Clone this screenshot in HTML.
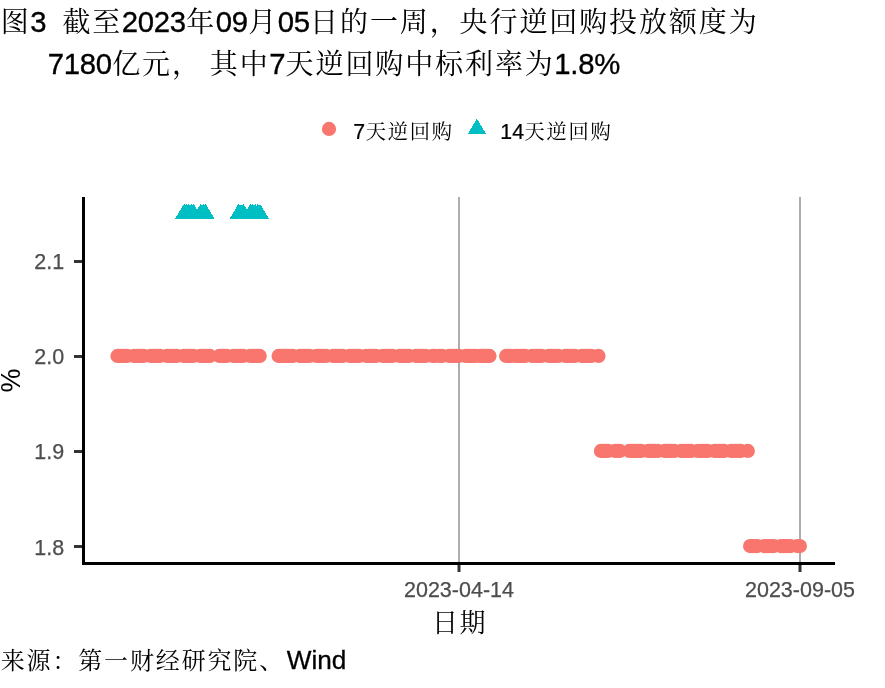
<!DOCTYPE html>
<html lang="zh"><head><meta charset="utf-8"><title>图3</title>
<style>
html,body{margin:0;padding:0;background:#fff;}
svg{display:block;}
text{font-family:"Liberation Sans","Noto Serif CJK SC",sans-serif;white-space:pre;font-weight:400;}
.l{stroke:#000;stroke-width:0.35px;}
.c{font-weight:400;}
.ax{font-size:21.5px;fill:#4d4d4d;stroke:#4d4d4d;stroke-width:0.25px;}
.at{font-size:26.9px;fill:#000;}
</style></head><body>
<svg width="885" height="688" viewBox="0 0 885 688">
<rect width="885" height="688" fill="#fff"/>
<text y="31.8" fill="#000"><tspan x="0.75" dy="0.00" class="c" style="font-size:28px;letter-spacing:1.90px">图</tspan><tspan x="30.30" dy="0.00" class="l" style="font-size:29.3px;letter-spacing:-0.28px;stroke-width:0.34px">3  </tspan><tspan x="62.39" dy="0.00" class="c" style="font-size:28px;letter-spacing:1.90px">截至</tspan><tspan x="121.84" dy="0.00" class="l" style="font-size:29.3px;letter-spacing:-0.28px;stroke-width:0.34px">2023</tspan><tspan x="186.25" dy="0.00" class="c" style="font-size:28px;letter-spacing:1.90px">年</tspan><tspan x="215.80" dy="0.00" class="l" style="font-size:29.3px;letter-spacing:-0.28px;stroke-width:0.34px">09</tspan><tspan x="248.18" dy="0.00" class="c" style="font-size:28px;letter-spacing:1.90px">月</tspan><tspan x="277.73" dy="0.00" class="l" style="font-size:29.3px;letter-spacing:-0.28px;stroke-width:0.34px">05</tspan><tspan x="310.11" dy="0.00" class="c" style="font-size:28px;letter-spacing:1.90px">日的一周，央行逆回购投放额度为</tspan></text>
<text y="74.0" fill="#000"><tspan x="47.80" dy="0.00" class="l" style="font-size:29.3px;letter-spacing:-0.28px;stroke-width:0.34px">7180</tspan><tspan x="112.21" dy="0.00" class="c" style="font-size:28px;letter-spacing:1.90px">亿元，</tspan><tspan x="201.56" dy="0.00" class="l" style="font-size:29.3px;letter-spacing:-0.28px;stroke-width:0.34px"> </tspan><tspan x="209.77" dy="0.00" class="c" style="font-size:28px;letter-spacing:1.90px">其中</tspan><tspan x="269.22" dy="0.00" class="l" style="font-size:29.3px;letter-spacing:-0.28px;stroke-width:0.34px">7</tspan><tspan x="285.59" dy="0.00" class="c" style="font-size:28px;letter-spacing:1.90px">天逆回购中标利率为</tspan><tspan x="554.34" dy="0.00" class="l" style="font-size:29.3px;letter-spacing:-0.28px;stroke-width:0.34px">1.8%</tspan></text>
<!-- legend -->
<circle cx="329" cy="128.9" r="7.1" fill="#F8766D"/>
<text y="138.8" fill="#000"><tspan x="353.30" dy="0.00" class="l" style="font-size:21.3px;letter-spacing:0.00px;stroke-width:0.24px">7</tspan><tspan x="365.70" dy="0.00" class="c" style="font-size:20.3px;letter-spacing:1.70px">天逆回购</tspan></text>
<path d="M476.9 118.5L486.1 134.1L467.7 134.1Z" fill="#00BFC4" shape-rendering="crispEdges"/>
<text y="138.8" fill="#000"><tspan x="500.30" dy="0.00" class="l" style="font-size:21.3px;letter-spacing:0.00px;stroke-width:0.24px">14</tspan><tspan x="524.54" dy="0.00" class="c" style="font-size:20.3px;letter-spacing:1.70px">天逆回购</tspan></text>
<!-- gridlines -->
<rect x="458" y="197" width="2" height="366" fill="#adadad"/>
<rect x="799" y="197" width="2" height="366" fill="#adadad"/>
<!-- points -->
<g fill="#F8766D">
<circle cx="117.5" cy="355.9" r="7.1"/><circle cx="119.9" cy="355.9" r="7.1"/><circle cx="122.2" cy="355.9" r="7.1"/><circle cx="124.6" cy="355.9" r="7.1"/><circle cx="127.0" cy="355.9" r="7.1"/><circle cx="134.1" cy="355.9" r="7.1"/><circle cx="136.4" cy="355.9" r="7.1"/><circle cx="138.8" cy="355.9" r="7.1"/><circle cx="141.2" cy="355.9" r="7.1"/><circle cx="143.5" cy="355.9" r="7.1"/><circle cx="150.7" cy="355.9" r="7.1"/><circle cx="153.0" cy="355.9" r="7.1"/><circle cx="155.4" cy="355.9" r="7.1"/><circle cx="157.8" cy="355.9" r="7.1"/><circle cx="160.1" cy="355.9" r="7.1"/><circle cx="167.2" cy="355.9" r="7.1"/><circle cx="169.6" cy="355.9" r="7.1"/><circle cx="172.0" cy="355.9" r="7.1"/><circle cx="174.4" cy="355.9" r="7.1"/><circle cx="176.7" cy="355.9" r="7.1"/><circle cx="183.8" cy="355.9" r="7.1"/><circle cx="186.2" cy="355.9" r="7.1"/><circle cx="188.6" cy="355.9" r="7.1"/><circle cx="190.9" cy="355.9" r="7.1"/><circle cx="193.3" cy="355.9" r="7.1"/><circle cx="200.4" cy="355.9" r="7.1"/><circle cx="202.8" cy="355.9" r="7.1"/><circle cx="205.2" cy="355.9" r="7.1"/><circle cx="207.5" cy="355.9" r="7.1"/><circle cx="209.9" cy="355.9" r="7.1"/><circle cx="219.4" cy="355.9" r="7.1"/><circle cx="221.7" cy="355.9" r="7.1"/><circle cx="224.1" cy="355.9" r="7.1"/><circle cx="226.5" cy="355.9" r="7.1"/><circle cx="233.6" cy="355.9" r="7.1"/><circle cx="236.0" cy="355.9" r="7.1"/><circle cx="238.3" cy="355.9" r="7.1"/><circle cx="240.7" cy="355.9" r="7.1"/><circle cx="243.1" cy="355.9" r="7.1"/><circle cx="250.2" cy="355.9" r="7.1"/><circle cx="252.5" cy="355.9" r="7.1"/><circle cx="254.9" cy="355.9" r="7.1"/><circle cx="257.3" cy="355.9" r="7.1"/><circle cx="259.7" cy="355.9" r="7.1"/><circle cx="278.6" cy="355.9" r="7.1"/><circle cx="281.0" cy="355.9" r="7.1"/><circle cx="283.3" cy="355.9" r="7.1"/><circle cx="285.7" cy="355.9" r="7.1"/><circle cx="288.1" cy="355.9" r="7.1"/><circle cx="290.5" cy="355.9" r="7.1"/><circle cx="292.8" cy="355.9" r="7.1"/><circle cx="299.9" cy="355.9" r="7.1"/><circle cx="302.3" cy="355.9" r="7.1"/><circle cx="304.7" cy="355.9" r="7.1"/><circle cx="307.0" cy="355.9" r="7.1"/><circle cx="309.4" cy="355.9" r="7.1"/><circle cx="316.5" cy="355.9" r="7.1"/><circle cx="318.9" cy="355.9" r="7.1"/><circle cx="321.3" cy="355.9" r="7.1"/><circle cx="323.6" cy="355.9" r="7.1"/><circle cx="326.0" cy="355.9" r="7.1"/><circle cx="333.1" cy="355.9" r="7.1"/><circle cx="335.5" cy="355.9" r="7.1"/><circle cx="337.8" cy="355.9" r="7.1"/><circle cx="340.2" cy="355.9" r="7.1"/><circle cx="342.6" cy="355.9" r="7.1"/><circle cx="349.7" cy="355.9" r="7.1"/><circle cx="352.1" cy="355.9" r="7.1"/><circle cx="354.4" cy="355.9" r="7.1"/><circle cx="356.8" cy="355.9" r="7.1"/><circle cx="359.2" cy="355.9" r="7.1"/><circle cx="366.3" cy="355.9" r="7.1"/><circle cx="368.7" cy="355.9" r="7.1"/><circle cx="371.0" cy="355.9" r="7.1"/><circle cx="373.4" cy="355.9" r="7.1"/><circle cx="375.8" cy="355.9" r="7.1"/><circle cx="382.9" cy="355.9" r="7.1"/><circle cx="385.2" cy="355.9" r="7.1"/><circle cx="387.6" cy="355.9" r="7.1"/><circle cx="390.0" cy="355.9" r="7.1"/><circle cx="392.3" cy="355.9" r="7.1"/><circle cx="399.5" cy="355.9" r="7.1"/><circle cx="401.8" cy="355.9" r="7.1"/><circle cx="404.2" cy="355.9" r="7.1"/><circle cx="406.6" cy="355.9" r="7.1"/><circle cx="408.9" cy="355.9" r="7.1"/><circle cx="416.0" cy="355.9" r="7.1"/><circle cx="418.4" cy="355.9" r="7.1"/><circle cx="420.8" cy="355.9" r="7.1"/><circle cx="423.1" cy="355.9" r="7.1"/><circle cx="425.5" cy="355.9" r="7.1"/><circle cx="432.6" cy="355.9" r="7.1"/><circle cx="435.0" cy="355.9" r="7.1"/><circle cx="439.7" cy="355.9" r="7.1"/><circle cx="442.1" cy="355.9" r="7.1"/><circle cx="449.2" cy="355.9" r="7.1"/><circle cx="451.6" cy="355.9" r="7.1"/><circle cx="454.0" cy="355.9" r="7.1"/><circle cx="456.3" cy="355.9" r="7.1"/><circle cx="458.7" cy="355.9" r="7.1"/><circle cx="465.8" cy="355.9" r="7.1"/><circle cx="468.2" cy="355.9" r="7.1"/><circle cx="470.5" cy="355.9" r="7.1"/><circle cx="472.9" cy="355.9" r="7.1"/><circle cx="475.3" cy="355.9" r="7.1"/><circle cx="480.0" cy="355.9" r="7.1"/><circle cx="482.4" cy="355.9" r="7.1"/><circle cx="484.8" cy="355.9" r="7.1"/><circle cx="487.1" cy="355.9" r="7.1"/><circle cx="489.5" cy="355.9" r="7.1"/><circle cx="506.1" cy="355.9" r="7.1"/><circle cx="508.5" cy="355.9" r="7.1"/><circle cx="510.8" cy="355.9" r="7.1"/><circle cx="515.6" cy="355.9" r="7.1"/><circle cx="517.9" cy="355.9" r="7.1"/><circle cx="520.3" cy="355.9" r="7.1"/><circle cx="522.7" cy="355.9" r="7.1"/><circle cx="525.0" cy="355.9" r="7.1"/><circle cx="532.1" cy="355.9" r="7.1"/><circle cx="534.5" cy="355.9" r="7.1"/><circle cx="536.9" cy="355.9" r="7.1"/><circle cx="539.3" cy="355.9" r="7.1"/><circle cx="541.6" cy="355.9" r="7.1"/><circle cx="548.7" cy="355.9" r="7.1"/><circle cx="551.1" cy="355.9" r="7.1"/><circle cx="553.5" cy="355.9" r="7.1"/><circle cx="555.8" cy="355.9" r="7.1"/><circle cx="558.2" cy="355.9" r="7.1"/><circle cx="565.3" cy="355.9" r="7.1"/><circle cx="567.7" cy="355.9" r="7.1"/><circle cx="570.1" cy="355.9" r="7.1"/><circle cx="572.4" cy="355.9" r="7.1"/><circle cx="574.8" cy="355.9" r="7.1"/><circle cx="581.9" cy="355.9" r="7.1"/><circle cx="584.3" cy="355.9" r="7.1"/><circle cx="586.6" cy="355.9" r="7.1"/><circle cx="589.0" cy="355.9" r="7.1"/><circle cx="591.4" cy="355.9" r="7.1"/><circle cx="598.5" cy="355.9" r="7.1"/><circle cx="600.9" cy="450.9" r="7.1"/><circle cx="603.2" cy="450.9" r="7.1"/><circle cx="605.6" cy="450.9" r="7.1"/><circle cx="608.0" cy="450.9" r="7.1"/><circle cx="615.1" cy="450.9" r="7.1"/><circle cx="617.4" cy="450.9" r="7.1"/><circle cx="619.8" cy="450.9" r="7.1"/><circle cx="629.3" cy="450.9" r="7.1"/><circle cx="631.7" cy="450.9" r="7.1"/><circle cx="634.0" cy="450.9" r="7.1"/><circle cx="636.4" cy="450.9" r="7.1"/><circle cx="638.8" cy="450.9" r="7.1"/><circle cx="641.1" cy="450.9" r="7.1"/><circle cx="648.3" cy="450.9" r="7.1"/><circle cx="650.6" cy="450.9" r="7.1"/><circle cx="653.0" cy="450.9" r="7.1"/><circle cx="655.4" cy="450.9" r="7.1"/><circle cx="657.7" cy="450.9" r="7.1"/><circle cx="664.8" cy="450.9" r="7.1"/><circle cx="667.2" cy="450.9" r="7.1"/><circle cx="669.6" cy="450.9" r="7.1"/><circle cx="671.9" cy="450.9" r="7.1"/><circle cx="674.3" cy="450.9" r="7.1"/><circle cx="681.4" cy="450.9" r="7.1"/><circle cx="683.8" cy="450.9" r="7.1"/><circle cx="686.2" cy="450.9" r="7.1"/><circle cx="688.5" cy="450.9" r="7.1"/><circle cx="690.9" cy="450.9" r="7.1"/><circle cx="698.0" cy="450.9" r="7.1"/><circle cx="700.4" cy="450.9" r="7.1"/><circle cx="702.8" cy="450.9" r="7.1"/><circle cx="705.1" cy="450.9" r="7.1"/><circle cx="707.5" cy="450.9" r="7.1"/><circle cx="714.6" cy="450.9" r="7.1"/><circle cx="717.0" cy="450.9" r="7.1"/><circle cx="719.3" cy="450.9" r="7.1"/><circle cx="721.7" cy="450.9" r="7.1"/><circle cx="724.1" cy="450.9" r="7.1"/><circle cx="731.2" cy="450.9" r="7.1"/><circle cx="733.6" cy="450.9" r="7.1"/><circle cx="735.9" cy="450.9" r="7.1"/><circle cx="738.3" cy="450.9" r="7.1"/><circle cx="740.7" cy="450.9" r="7.1"/><circle cx="747.8" cy="450.9" r="7.1"/><circle cx="750.1" cy="546.1" r="7.1"/><circle cx="752.5" cy="546.1" r="7.1"/><circle cx="754.9" cy="546.1" r="7.1"/><circle cx="757.2" cy="546.1" r="7.1"/><circle cx="764.4" cy="546.1" r="7.1"/><circle cx="766.7" cy="546.1" r="7.1"/><circle cx="769.1" cy="546.1" r="7.1"/><circle cx="771.5" cy="546.1" r="7.1"/><circle cx="773.8" cy="546.1" r="7.1"/><circle cx="780.9" cy="546.1" r="7.1"/><circle cx="783.3" cy="546.1" r="7.1"/><circle cx="785.7" cy="546.1" r="7.1"/><circle cx="788.1" cy="546.1" r="7.1"/><circle cx="790.4" cy="546.1" r="7.1"/><circle cx="797.5" cy="546.1" r="7.1"/><circle cx="799.9" cy="546.1" r="7.1"/>
</g>
<g fill="#00BFC4" shape-rendering="crispEdges">
<path d="M184.1 203.7L193.0 218.6L175.2 218.6Z"/><path d="M186.5 203.7L195.4 218.6L177.6 218.6Z"/><path d="M188.9 203.7L197.8 218.6L180.0 218.6Z"/><path d="M191.2 203.7L200.1 218.6L182.3 218.6Z"/><path d="M193.6 203.7L202.5 218.6L184.7 218.6Z"/><path d="M200.7 203.7L209.6 218.6L191.8 218.6Z"/><path d="M203.1 203.7L212.0 218.6L194.2 218.6Z"/><path d="M205.5 203.7L214.4 218.6L196.6 218.6Z"/><path d="M238.6 203.7L247.5 218.6L229.7 218.6Z"/><path d="M241.0 203.7L249.9 218.6L232.1 218.6Z"/><path d="M243.4 203.7L252.3 218.6L234.5 218.6Z"/><path d="M250.5 203.7L259.4 218.6L241.6 218.6Z"/><path d="M252.8 203.7L261.7 218.6L243.9 218.6Z"/><path d="M255.2 203.7L264.1 218.6L246.3 218.6Z"/><path d="M257.6 203.7L266.5 218.6L248.7 218.6Z"/><path d="M260.0 203.7L268.9 218.6L251.1 218.6Z"/>
</g>
<!-- axes -->
<rect x="82" y="197" width="3" height="368" fill="#000"/>
<rect x="82" y="562" width="753" height="3" fill="#000"/>
<g fill="#333">
<rect x="74" y="260" width="8" height="3"/>
<rect x="74" y="355" width="8" height="3"/>
<rect x="74" y="450" width="8" height="3"/>
<rect x="74" y="545" width="8" height="3"/>
<rect x="457.5" y="565" width="3" height="7"/>
<rect x="798.5" y="565" width="3" height="7"/>
</g>
<g text-anchor="end">
<text class="ax" x="64.2" y="269.1">2.1</text>
<text class="ax" x="64.2" y="364.2">2.0</text>
<text class="ax" x="64.2" y="459.3">1.9</text>
<text class="ax" x="64.2" y="554.5">1.8</text>
</g>
<text class="ax" x="459" y="597.2" text-anchor="middle">2023-04-14</text>
<text class="ax" x="800" y="597.2" text-anchor="middle">2023-09-05</text>
<text y="631.5" fill="#000"><tspan x="432.00" dy="0.00" class="c" style="font-size:26px;letter-spacing:1.40px">日期</tspan></text>
<text class="at" transform="translate(20.3,380.6) rotate(-90)" text-anchor="middle">%</text>
<text y="668.5" fill="#000"><tspan x="0.73" dy="0.00" class="c" style="font-size:24px;letter-spacing:1.85px">来源：第一财经研究院、</tspan></text>
<text y="668.7" fill="#000"><tspan x="286.70" dy="0.00" class="l" style="font-size:26.2px;letter-spacing:0.00px;stroke-width:0.30px">Wind</tspan></text>
</svg>
</body></html>
